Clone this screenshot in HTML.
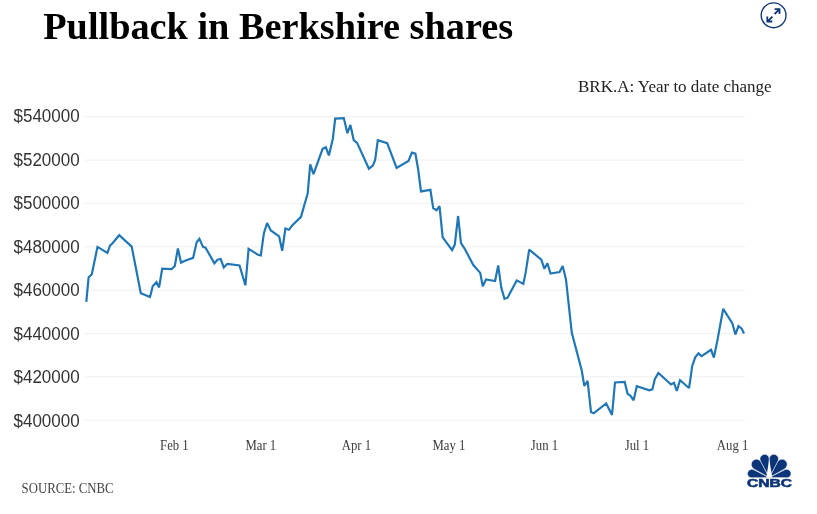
<!DOCTYPE html>
<html><head><meta charset="utf-8">
<style>
html,body{margin:0;padding:0;background:#fff;width:817px;height:514px;overflow:hidden;}
svg{display:block;will-change:transform;}
</style></head>
<body>
<svg width="817" height="514" viewBox="0 0 817 514">
<text x="43.2" y="38.8" font-family="Liberation Serif" font-weight="bold" font-size="38.3" fill="#000">Pullback in Berkshire shares</text>
<g fill="none" stroke="#0d3676" stroke-width="1.35">
<circle cx="773.6" cy="15.3" r="12.4"/>
</g>
<g fill="none" stroke="#0d3676" stroke-width="1.8" stroke-linecap="butt">
<path d="M774.6,14.0 L779.3,9.3 M774.6,9.2 L779.5,9.2 L779.5,14.1"/>
<path d="M772.4,16.6 L767.7,21.3 M767.3,16.5 L767.3,21.5 L772.3,21.5"/>
</g>
<text x="578" y="92" font-family="Liberation Serif" font-size="17" fill="#222">BRK.A: Year to date change</text>
<g stroke="#efefef" stroke-width="1">
<line x1="85" x2="745" y1="116.7" y2="116.7"/>
<line x1="85" x2="745" y1="160.1" y2="160.1"/>
<line x1="85" x2="745" y1="203.4" y2="203.4"/>
<line x1="85" x2="745" y1="246.8" y2="246.8"/>
<line x1="85" x2="745" y1="290.1" y2="290.1"/>
<line x1="85" x2="745" y1="333.5" y2="333.5"/>
<line x1="85" x2="745" y1="376.8" y2="376.8"/>
<line x1="85" x2="745" y1="420.2" y2="420.2"/>
</g>
<g font-family="Liberation Sans" font-size="17.6" fill="#333" text-anchor="end" transform="translate(79.4,0) scale(0.965,1) translate(-79.4,0)">
<text x="79.6" y="122.00">$540000</text>
<text x="79.6" y="165.57">$520000</text>
<text x="79.6" y="209.14">$500000</text>
<text x="79.6" y="252.71">$480000</text>
<text x="79.6" y="296.29">$460000</text>
<text x="79.6" y="339.86">$440000</text>
<text x="79.6" y="383.43">$420000</text>
<text x="79.6" y="427.00">$400000</text>
</g>
<g font-family="Liberation Serif" font-size="15" fill="#3c3c3c" text-anchor="middle">
<text x="174.4" y="450.3" transform="translate(174.4,0) scale(0.85,1) translate(-174.4,0)">Feb 1</text>
<text x="260.8" y="450.3" transform="translate(260.8,0) scale(0.85,1) translate(-260.8,0)">Mar 1</text>
<text x="356.4" y="450.3" transform="translate(356.4,0) scale(0.85,1) translate(-356.4,0)">Apr 1</text>
<text x="448.9" y="450.3" transform="translate(448.9,0) scale(0.85,1) translate(-448.9,0)">May 1</text>
<text x="544.5" y="450.3" transform="translate(544.5,0) scale(0.85,1) translate(-544.5,0)">Jun 1</text>
<text x="637.0" y="450.3" transform="translate(637.0,0) scale(0.85,1) translate(-637.0,0)">Jul 1</text>
<text x="732.6" y="450.3" transform="translate(732.6,0) scale(0.85,1) translate(-732.6,0)">Aug 1</text>
</g>
<text x="21.6" y="493" font-family="Liberation Serif" font-size="14" fill="#444" textLength="92" lengthAdjust="spacingAndGlyphs">SOURCE: CNBC</text>
<path d="M86.3,301.8 L88.6,277.5 L91.8,274.3 L97.5,246.9 L107.4,252.9 L110.1,245.4 L112.1,243.8 L119.2,235.2 L131.7,246.6 L140.8,293.2 L150.0,297.1 L152.8,286.1 L156.5,282.2 L159.1,287.4 L162.2,268.6 L171.6,269.2 L174.8,266.0 L177.9,248.5 L181.0,262.6 L185.0,260.7 L193.1,257.9 L196.7,242.2 L199.4,238.8 L203.0,246.9 L205.5,247.6 L214.4,263.3 L217.5,259.8 L220.7,259.0 L223.8,267.4 L227.4,263.8 L239.5,265.5 L245.4,285.3 L248.6,248.9 L258.0,254.8 L260.8,255.4 L263.9,233.2 L267.1,223.0 L270.8,230.4 L279.1,236.3 L282.2,250.8 L285.4,228.5 L289.0,229.8 L292.4,225.1 L301.0,216.8 L304.9,203.0 L307.7,193.6 L310.2,164.4 L313.5,174.2 L322.6,148.9 L325.8,147.3 L328.9,155.4 L332.8,139.0 L335.2,118.6 L343.8,118.1 L347.4,133.2 L350.4,124.9 L353.7,140.1 L357.1,142.9 L368.9,168.7 L372.8,165.6 L375.1,160.1 L377.8,140.1 L387.2,143.2 L396.6,168.0 L408.5,160.9 L411.9,152.6 L415.4,153.6 L418.1,169.0 L421.0,191.4 L430.4,189.8 L433.2,208.2 L436.5,210.2 L439.5,206.1 L442.7,237.3 L452.1,250.1 L454.8,244.6 L458.1,216.0 L461.0,243.1 L464.6,248.6 L473.3,265.0 L480.2,272.9 L482.8,286.2 L486.0,279.5 L495.1,281.0 L498.2,265.4 L501.3,287.8 L504.5,298.8 L507.6,297.7 L516.7,280.4 L523.3,283.9 L525.6,272.9 L529.2,249.7 L541.3,259.6 L544.4,268.8 L547.4,263.3 L550.5,273.5 L559.6,272.0 L562.7,265.9 L566.0,279.6 L571.8,332.8 L581.7,370.2 L584.3,385.8 L586.1,383.5 L587.6,380.8 L591.0,412.1 L593.7,413.3 L606.2,403.5 L612.0,414.9 L615.0,382.5 L624.7,382.0 L627.6,393.8 L630.3,395.6 L633.6,400.3 L636.8,386.2 L649.3,390.4 L652.4,389.3 L654.8,379.2 L658.4,372.9 L671.0,384.5 L674.0,382.8 L676.8,391.0 L680.0,380.2 L689.0,388.0 L690.1,381.3 L692.1,366.4 L695.2,357.4 L698.5,353.4 L701.6,356.2 L711.0,349.8 L713.9,357.5 L717.4,340.4 L723.2,308.8 L732.3,323.2 L735.4,334.5 L738.5,326.0 L741.7,328.7 L744.0,333.4" fill="none" stroke="#2177b5" stroke-width="2.2" stroke-linejoin="miter" stroke-miterlimit="2"/>


<!--LOGO--><defs><clipPath id="lclip"><rect x="740" y="445" width="60" height="32.70"/></clipPath></defs><g clip-path="url(#lclip)"><g fill="#0c3479" stroke="#fff" stroke-width="0.45" stroke-linejoin="round">
<path transform="translate(769.25,477.6) rotate(-77)" d="M0,0 L4.17,-16.87 A4.30,4.30 0 1 0 -4.17,-16.87 Z"/>
<path transform="translate(769.25,477.6) rotate(77)" d="M0,0 L4.17,-16.87 A4.30,4.30 0 1 0 -4.17,-16.87 Z"/>
<path transform="translate(769.25,477.6) rotate(-44)" d="M0,0 L4.99,-16.93 A5.20,5.20 0 1 0 -4.99,-16.93 Z"/>
<path transform="translate(769.25,477.6) rotate(44)" d="M0,0 L4.99,-16.93 A5.20,5.20 0 1 0 -4.99,-16.93 Z"/>
<path transform="translate(769.25,477.6) rotate(-14.0)" d="M0,0 L4.47,-18.20 A4.60,4.60 0 1 0 -4.47,-18.20 Z"/>
<path transform="translate(769.25,477.6) rotate(14.0)" d="M0,0 L4.47,-18.20 A4.60,4.60 0 1 0 -4.47,-18.20 Z"/>
</g><polygon fill="#fff" points="769.25,459.5 766.25,477.6 772.25,477.6"/></g><!--/LOGO-->
<text x="746.9" y="486.5" font-family="Liberation Sans" font-weight="bold" font-size="10" fill="#0c3479" stroke="#0c3479" stroke-width="0.5" textLength="45.0" lengthAdjust="spacingAndGlyphs">CNBC</text>
</svg>
</body></html>
